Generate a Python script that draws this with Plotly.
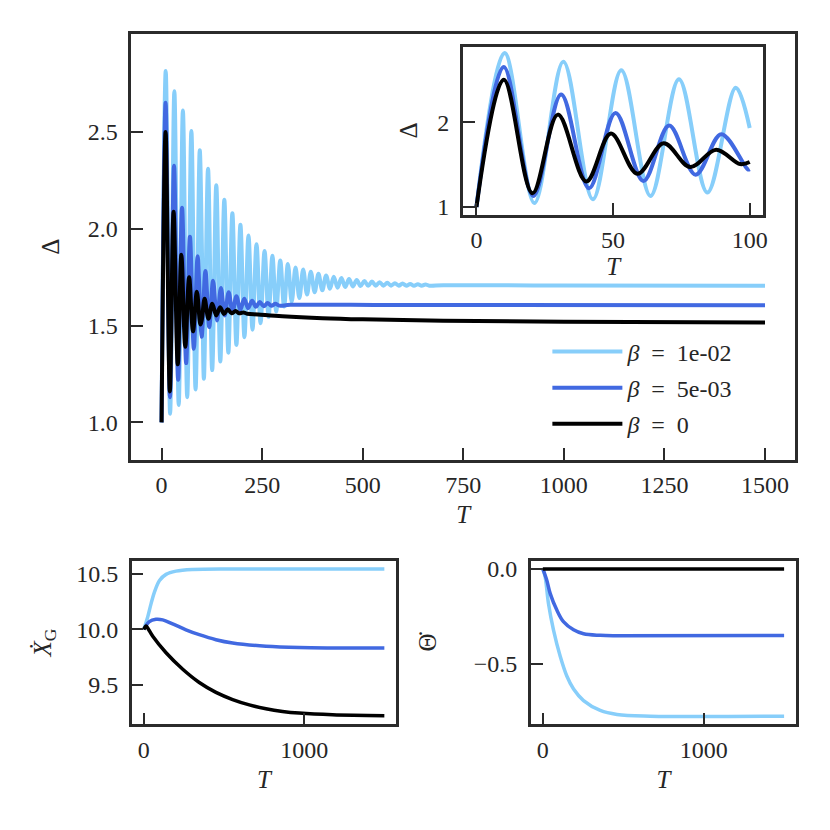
## Delta(T) for three damping values, inset zoom on early times,
## plus the centre-of-mass velocity and pitch rate below.

import plotly.graph_objs as go

## ---- Delta(T): extrema and a few points on the tail ----
t_b1 = [0, 10.3, 21.2, 31.8, 42.6, 53.0, 63.7, 74.1, 84.5, 94.9, 100, 105.2, 115.5, 125.8,
        136, 146, 156, 166, 176, 186, 196, 206, 216, 226, 236, 246, 256, 266, 275.5, 285,
        295, 304.5, 314, 323.5, 333, 342.5, 352, 361.5, 371, 380.5, 390, 399.5, 409, 418.5,
        428, 437.5, 447, 456.5, 466, 475.5, 485, 494.5, 504, 513.5, 523, 532.5, 542, 551.5,
        561, 570.5, 580, 589.5, 599, 608.5, 618, 627.5, 637, 646.5, 656, 665.5, 700, 1000, 1500]
d_b1 = [1.0, 2.815, 1.045, 2.71, 1.09, 2.61, 1.13, 2.505, 1.17, 2.405, 1.93, 1.225, 2.31, 1.27,
        2.225, 1.315, 2.15, 1.36, 2.08, 1.40, 2.02, 1.44, 1.965, 1.478, 1.92, 1.512, 1.885, 1.545, 1.86, 1.573,
        1.836, 1.598, 1.818, 1.622, 1.80, 1.642, 1.79, 1.66, 1.778, 1.672, 1.767, 1.682, 1.759, 1.69,
        1.752, 1.695, 1.745, 1.699, 1.740, 1.702, 1.735, 1.704, 1.730, 1.705, 1.727, 1.706, 1.724, 1.706,
        1.721, 1.706, 1.719, 1.706, 1.717, 1.706, 1.715, 1.706, 1.713, 1.706, 1.712, 1.706, 1.708, 1.707, 1.706]

t_b5 = [0, 10, 20.8, 31, 41.2, 50.9, 61.1, 70.5, 80.2, 89.6, 99.3, 100, 109, 118.5, 128, 137.8,
        147.5, 157, 166.8, 176.5, 186, 196, 205.5, 215, 225, 234.5, 244, 254, 263.5, 273,
        283, 292.5, 320, 600, 1500]
d_b5 = [1.0, 2.65, 1.13, 2.325, 1.22, 2.108, 1.306, 1.959, 1.38, 1.858, 1.442, 1.444, 1.782, 1.492, 1.731, 1.526,
        1.694, 1.552, 1.672, 1.569, 1.651, 1.582, 1.638, 1.59, 1.628, 1.597, 1.621, 1.60, 1.616, 1.602,
        1.612, 1.603, 1.607, 1.606, 1.605]

t_b0 = [0, 10, 20.5, 29.8, 40.2, 49.2, 58.9, 68.5, 78.2, 87.7, 96.5, 100, 107, 116.5, 126, 136,
        145.5, 155, 164.5, 174, 184, 193.5, 203, 213, 240, 300, 400, 500, 700, 1000, 1500]
d_b0 = [1.0, 2.50, 1.16, 2.088, 1.30, 1.865, 1.39, 1.75, 1.47, 1.675, 1.505, 1.53, 1.638, 1.535, 1.613, 1.552,
        1.595, 1.56, 1.584, 1.563, 1.575, 1.563, 1.568, 1.561, 1.557, 1.548, 1.538, 1.532, 1.525, 1.52, 1.516]

## ---- X_G dot(T) ----
tx_b1 = [0, 25, 46, 67, 98, 139, 201, 305, 554, 1500]
xg_b1 = [10.0, 10.115, 10.234, 10.337, 10.44, 10.495, 10.524, 10.539, 10.544, 10.544]
tx_b5 = [0, 35, 76, 118, 180, 263, 346, 450, 554, 762, 969, 1177, 1500]
xg_b5 = [10.0, 10.071, 10.091, 10.086, 10.05, 9.997, 9.953, 9.908, 9.878, 9.849, 9.837, 9.834, 9.834]
tx_b0 = [0, 15, 30, 56, 139, 243, 346, 450, 554, 658, 762, 865, 969, 1177, 1500]
xg_b0 = [10.0, 10.03, 10.0, 9.938, 9.79, 9.642, 9.523, 9.434, 9.37, 9.322, 9.287, 9.263, 9.248, 9.233, 9.225]

## ---- Theta dot(T) ----
th_t_b1 = [0, 14.5, 35, 66, 108, 149, 191, 253, 357, 461, 668, 1500]
th_b1 = [0.0, -0.043, -0.182, -0.321, -0.46, -0.564, -0.633, -0.694, -0.746, -0.767, -0.776, -0.776]
th_t_b5 = [0, 25, 46, 87, 128, 191, 253, 357, 461, 1500]
th_b5 = [0.0, -0.061, -0.13, -0.217, -0.278, -0.321, -0.342, -0.35, -0.352, -0.351]
th_t_b0 = [0, 1500]
th_b0 = [0.0, 0.0]

labels = ['<i>β</i>\u2002=\u20021e-02', '<i>β</i>\u2002=\u20025e-03', '<i>β</i>\u2002=\u20020']
colors = ['#87CEFA', '#4169E1', '#000000']

serif = 'Liberation Serif'
ink = '#2b2b2b'

fig = go.Figure()

main_sets = [(t_b1, d_b1), (t_b5, d_b5), (t_b0, d_b0)]
for (t, d), name, c in zip(main_sets, labels, colors):
    fig.add_trace(go.Scatter(x=t, y=d, mode='lines', name=name, legendgroup=name,
                             line=dict(color=c, width=4, shape='spline'),
                             xaxis='x', yaxis='y'))

## inset: same curves, only up to T = 100
for (t, d), c in zip(main_sets, colors):
    ti = [v for v in t if v <= 100]
    fig.add_trace(go.Scatter(x=ti, y=d[:len(ti)], mode='lines', showlegend=False,
                             line=dict(color=c, width=4, shape='spline'),
                             xaxis='x2', yaxis='y2'))

for t, v, c in zip([tx_b1, tx_b5, tx_b0], [xg_b1, xg_b5, xg_b0], colors):
    fig.add_trace(go.Scatter(x=t, y=v, mode='lines', showlegend=False,
                             line=dict(color=c, width=3.5, shape='spline'),
                             xaxis='x3', yaxis='y3'))

for t, v, c in zip([th_t_b1, th_t_b5, th_t_b0], [th_b1, th_b5, th_b0], colors):
    fig.add_trace(go.Scatter(x=t, y=v, mode='lines', showlegend=False,
                             line=dict(color=c, width=3.5, shape='spline'),
                             xaxis='x4', yaxis='y4'))


def ax(**kw):
    base = dict(showline=True, mirror=True, linecolor=ink, linewidth=2.5,
                ticks='inside', ticklen=12, tickwidth=2, tickcolor=ink,
                ticklabelstandoff=6,
                showgrid=False, zeroline=False,
                tickfont=dict(family=serif, size=24, color='#262626'))
    base.update(kw)
    return base


def ttl(text, standoff):
    return dict(text=text, standoff=standoff, font=dict(family=serif, size=25, color='#262626'))


## the page puts the plot 8px in from the top-left corner, domains account for that
layout = go.Layout(
    width=830, height=830,
    margin=dict(l=0, r=0, t=0, b=0),
    paper_bgcolor='white', plot_bgcolor='white',
    template='none',
    xaxis=ax(domain=[0.1494, 0.953], anchor='y', range=[-75, 1575], ticklabelstandoff=2,
             tickvals=[0, 250, 500, 750, 1000, 1250, 1500], title=ttl('<i>T</i>', 9)),
    yaxis=ax(domain=[0.4542, 0.9735], anchor='x', range=[0.808, 3.007],
             tickvals=[1.0, 1.5, 2.0, 2.5], tickformat='.1f', title=ttl('Δ', 22)),
    xaxis2=ax(domain=[0.5506, 0.9145], anchor='y2', range=[-5, 105], ticklabelstandoff=2,
              tickvals=[0, 50, 100], title=ttl('<i>T</i>', 0)),
    yaxis2=ax(domain=[0.753, 0.9578], anchor='x2', range=[0.91, 2.89],
              tickvals=[1, 2], title=ttl('Δ', 13)),
    xaxis3=ax(domain=[0.1498, 0.4702], anchor='y3', range=[-75, 1575], ticklabelstandoff=2,
              tickvals=[0, 1000], title=ttl('<i>T</i>', 9)),
    yaxis3=ax(domain=[0.1313, 0.331], anchor='x3', range=[9.147, 10.619],
              tickvals=[9.5, 10.0, 10.5], tickformat='.1f', title=ttl('<i>Ẋ</i><sub>G</sub>', 18)),
    xaxis4=ax(domain=[0.6329, 0.9542], anchor='y4', range=[-75, 1575], ticklabelstandoff=2,
              tickvals=[0, 1000], title=ttl('<i>T</i>', 9)),
    yaxis4=ax(domain=[0.1313, 0.331], anchor='x4', range=[-0.819, 0.044],
              tickvals=[-0.5, 0.0], tickformat='.1f', title=ttl('Θ̇', 30)),
    legend=dict(x=0.653, y=0.613, xanchor='left', yanchor='top',
                bgcolor='rgba(0,0,0,0)', tracegroupgap=2, itemwidth=70,
                font=dict(family=serif, size=24, color='#262626')),
)
fig.update_layout(layout)

fig.write_html("out.html")
